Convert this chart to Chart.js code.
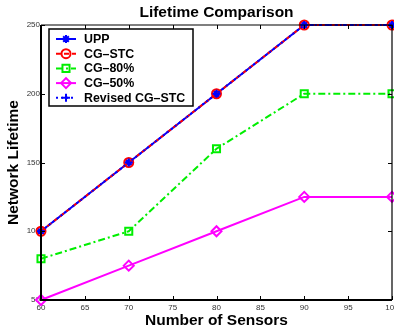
<!DOCTYPE html>
<html>
<head>
<meta charset="utf-8">
<script src="https://cdn.jsdelivr.net/npm/chart.js@4"></script>
<style>
  html, body { margin: 0; padding: 0; background: #fff; }
  #wrap { width: 394px; height: 334px; }
</style>
</head>
<body>
<div id="wrap"><canvas id="myChart"></canvas></div>
<script>
const sensors = [60, 70, 80, 90, 100];
const upp = [100, 150, 200, 250, 250];
const cgStc = [100, 150, 200, 250, 250];
const cg80 = [80, 100, 160, 200, 200];
const cg50 = [50, 75, 100, 125, 125];
const revisedCgStc = [100, 150, 200, 250, 250];
const xTicks = [60, 65, 70, 75, 80, 85, 90, 95, 100];
const yTicks = [50, 100, 150, 200, 250];

const fontFamily = '"Liberation Sans", Arial, Helvetica, sans-serif';

function points(values) {
  return values.map((v, i) => ({ x: sensors[i], y: v }));
}

// box + inward ticks on all four sides, matlab style
const boxPlugin = {
  id: 'box',
  afterDatasetsDraw(chart) {
    const { ctx, chartArea: a, scales } = chart;
    ctx.save();
    ctx.strokeStyle = '#000';
    ctx.lineWidth = 1;
    ctx.beginPath();
    xTicks.forEach(t => {
      const px = Math.round(scales.x.getPixelForValue(t)) + 0.5;
      ctx.moveTo(px, a.bottom); ctx.lineTo(px, a.bottom - 4);
      ctx.moveTo(px, a.top); ctx.lineTo(px, a.top + 4);
    });
    yTicks.forEach(t => {
      const py = Math.round(scales.y.getPixelForValue(t)) + 0.5;
      ctx.moveTo(a.left, py); ctx.lineTo(a.left + 4, py);
      ctx.moveTo(a.right, py); ctx.lineTo(a.right - 4, py);
    });
    ctx.stroke();
    ctx.lineWidth = 1.2;
    ctx.beginPath();
    ctx.moveTo(a.left, a.top); ctx.lineTo(a.right, a.top); ctx.lineTo(a.right, a.bottom);
    ctx.stroke();
    ctx.lineWidth = 2;
    ctx.beginPath();
    ctx.moveTo(a.left, a.top); ctx.lineTo(a.left, a.bottom); ctx.lineTo(a.right, a.bottom);
    ctx.stroke();
    ctx.restore();
  },
};

// legend in the upper left corner with line samples
const legendPlugin = {
  id: 'boxLegend',
  afterDraw(chart) {
    const { ctx, chartArea: a } = chart;
    const x0 = a.left + 8, y0 = a.top + 4, w = 144, h = 77, rowH = 14.7;
    ctx.save();
    ctx.fillStyle = '#fff';
    ctx.fillRect(x0, y0, w, h);
    ctx.strokeStyle = '#000';
    ctx.lineWidth = 1.5;
    ctx.strokeRect(x0, y0, w, h);
    chart.data.datasets.forEach((ds, i) => {
      const cy = y0 + 10 + i * rowH;
      ctx.strokeStyle = ds.borderColor;
      ctx.lineWidth = ds.borderWidth;
      ctx.setLineDash(ds.borderDash || []);
      ctx.beginPath();
      ctx.moveTo(x0 + 7, cy); ctx.lineTo(x0 + 27, cy);
      ctx.stroke();
      ctx.setLineDash([]);
      ctx.fillStyle = 'rgba(0,0,0,0)';
      ctx.strokeStyle = ds.pointBorderColor;
      ctx.lineWidth = ds.pointBorderWidth;
      Chart.helpers.drawPoint(ctx, { pointStyle: ds.pointStyle, radius: ds.pointRadius, borderWidth: ds.pointBorderWidth, rotation: 0 }, x0 + 17, cy);
      ctx.fillStyle = '#000';
      ctx.font = 'bold 12.4px ' + fontFamily;
      ctx.textBaseline = 'middle';
      ctx.fillText(ds.label, x0 + 35, cy + 0.5);
    });
    ctx.restore();
  },
};

function series(label, values, color, style, radius, dash, order) {
  return {
    label,
    data: points(values),
    borderColor: color,
    backgroundColor: 'transparent',
    borderWidth: 2,
    borderDash: dash,
    pointStyle: style,
    pointRadius: radius,
    pointBorderColor: color,
    pointBackgroundColor: 'transparent',
    pointBorderWidth: 2,
    clip: false,
    order,
  };
}

function noPadding(scale) {
  scale.paddingLeft = 0;
  scale.paddingRight = 0;
  scale.paddingTop = 0;
  scale.paddingBottom = 0;
}

const hiddenGrid = { display: false, drawTicks: false, tickLength: 0 };
const titleFont = { family: fontFamily, size: 15.5, weight: 'bold' };

new Chart(document.querySelector('#myChart'), {
  type: 'line',
  data: {
    datasets: [
      series('UPP', upp, '#0000ff', 'star', 4, [], 3),
      series('CG\u2013STC', cgStc, '#ff0000', 'circle', 4.5, [5, 3], 2),
      series('CG\u201380%', cg80, '#00ee00', 'rect', 5, [7, 3, 2, 3], 4),
      series('CG\u201350%', cg50, '#ff00ff', 'rectRot', 5, [], 5),
      series('Revised CG\u2013STC', revisedCgStc, '#0000ff', 'cross', 4, [2, 3], 1),
    ],
  },
  options: {
    responsive: true,
    maintainAspectRatio: false,
    animation: false,
    layout: { autoPadding: false, padding: { left: 0, right: 2, top: 0, bottom: 0 } },
    scales: {
      x: {
        type: 'linear',
        min: 60,
        max: 100,
        afterBuildTicks(scale) { scale.ticks = xTicks.map(v => ({ value: v })); },
        afterFit(scale) { scale.height = 34; noPadding(scale); },
        afterUpdate: noPadding,
        grid: hiddenGrid,
        border: { display: false },
        ticks: { font: { family: fontFamily, size: 8 }, color: '#333', padding: 3, maxRotation: 0 },
        title: {
          display: true,
          text: 'Number of Sensors',
          font: titleFont,
          color: '#000',
          padding: { top: 0, bottom: 4 },
        },
      },
      y: {
        min: 50,
        max: 250,
        afterBuildTicks(scale) { scale.ticks = yTicks.map(v => ({ value: v })); },
        afterFit(scale) { scale.width = 41; noPadding(scale); },
        afterUpdate: noPadding,
        grid: hiddenGrid,
        border: { display: false },
        ticks: { font: { family: fontFamily, size: 8 }, color: '#333', padding: 1 },
        title: {
          display: true,
          text: 'Network Lifetime',
          font: titleFont,
          color: '#000',
          padding: { top: 4, bottom: 0 },
        },
      },
    },
    plugins: {
      legend: { display: false },
      tooltip: { enabled: false },
      title: {
        display: true,
        fullSize: false,
        text: 'Lifetime Comparison',
        font: titleFont,
        color: '#000',
        padding: { top: 3, bottom: 3.4 },
      },
    },
  },
  plugins: [boxPlugin, legendPlugin],
});
</script>
</body>
</html>
